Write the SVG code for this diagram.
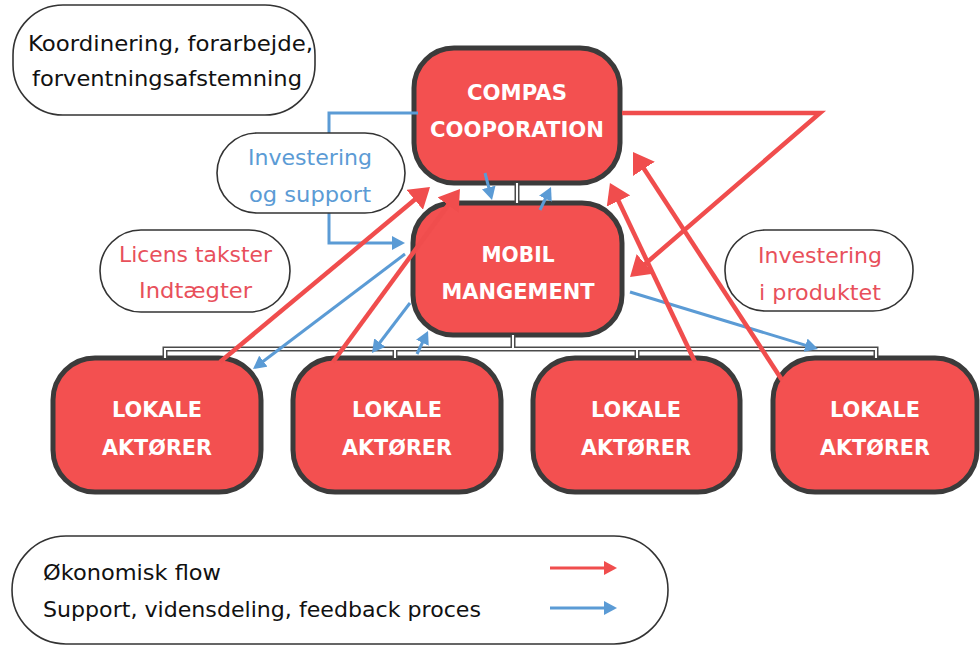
<svg xmlns="http://www.w3.org/2000/svg" width="980" height="647" viewBox="0 0 980 647">
<style>
.node{fill:#f35050;stroke:#3b3b3b;stroke-width:5}
.nt{font-family:"DejaVu Sans","Liberation Sans",sans-serif;font-weight:bold;font-size:21px;fill:#ffffff;text-anchor:middle}
.pill{fill:#ffffff;stroke:#333333;stroke-width:1.6}
.lt{font-family:"DejaVu Sans","Liberation Sans",sans-serif;font-size:21px}
.blk{fill:#111111}
.blu{fill:#5b9bd5}
.rdt{fill:#e8505b}
.barO{fill:none;stroke:#4a4a4a;stroke-width:5}
.barI{fill:none;stroke:#ffffff;stroke-width:2}
.red{fill:none;stroke:#f04d4d;stroke-width:4.5}
.blue{fill:none;stroke:#5b9bd5;stroke-width:3}
</style>
<defs>
<marker id="ahR" markerUnits="userSpaceOnUse" markerWidth="20" markerHeight="26" refX="5" refY="13" orient="auto">
<path d="M0,0 L20,13 L0,26 z" fill="#f04d4d"/>
</marker>
<marker id="ahB" markerUnits="userSpaceOnUse" markerWidth="13" markerHeight="14" refX="3" refY="7" orient="auto">
<path d="M0,0 L13,7 L0,14 z" fill="#5b9bd5"/>
</marker>
<marker id="ahRs" markerUnits="userSpaceOnUse" markerWidth="13" markerHeight="14" refX="3" refY="7" orient="auto">
<path d="M0,0 L13,7 L0,14 z" fill="#f04d4d"/>
</marker>
</defs>
<rect width="980" height="647" fill="#ffffff"/>

<g id="compas">
<rect class="node" x="414" y="48" width="206" height="135" rx="40"/>
<text class="nt" x="517" y="100" textLength="100" lengthAdjust="spacingAndGlyphs">COMPAS</text>
<text class="nt" x="517" y="137" textLength="174" lengthAdjust="spacingAndGlyphs">COOPORATION</text>
</g>
<g id="mobil">
<rect class="node" x="413" y="203" width="209" height="132" rx="40"/>
<text class="nt" x="518" y="262" textLength="73" lengthAdjust="spacingAndGlyphs">MOBIL</text>
<text class="nt" x="518" y="299" textLength="153" lengthAdjust="spacingAndGlyphs">MANGEMENT</text>
</g>
<g id="lokale1">
<rect class="node" x="53" y="358" width="208" height="134" rx="42"/>
<text class="nt" x="157" y="417" textLength="90" lengthAdjust="spacingAndGlyphs">LOKALE</text>
<text class="nt" x="157" y="455" textLength="110" lengthAdjust="spacingAndGlyphs">AKTØRER</text>
</g>
<g id="lokale2">
<rect class="node" x="293" y="358" width="208" height="134" rx="42"/>
<text class="nt" x="397" y="417" textLength="90" lengthAdjust="spacingAndGlyphs">LOKALE</text>
<text class="nt" x="397" y="455" textLength="110" lengthAdjust="spacingAndGlyphs">AKTØRER</text>
</g>
<g id="lokale3">
<rect class="node" x="533" y="358" width="207" height="134" rx="42"/>
<text class="nt" x="636" y="417" textLength="90" lengthAdjust="spacingAndGlyphs">LOKALE</text>
<text class="nt" x="636" y="455" textLength="110" lengthAdjust="spacingAndGlyphs">AKTØRER</text>
</g>
<g id="lokale4">
<rect class="node" x="773" y="358" width="204" height="134" rx="42"/>
<text class="nt" x="875" y="417" textLength="90" lengthAdjust="spacingAndGlyphs">LOKALE</text>
<text class="nt" x="875" y="455" textLength="110" lengthAdjust="spacingAndGlyphs">AKTØRER</text>
</g>

<g id="connectors">
<path class="barO" d="M517,183 V203 M513,335 V349 M165,358 V349 H876 V358 M395,349 V358 M637,349 V358"/>
<path class="barI" d="M517,183 V203 M513,335 V349 M165,358 V349 H876 V358 M395,349 V358 M637,349 V358"/>
<path class="blue" d="M418,113 H329 V243 H395" marker-end="url(#ahB)"/>
<path class="blue" d="M485,173 L489.5,190.3" marker-end="url(#ahB)"/>
<path class="blue" d="M540,210 L546.7,196" marker-end="url(#ahB)"/>
<path class="blue" d="M405,254 L261,363" marker-end="url(#ahB)"/>
<path class="blue" d="M410,303 L378,345" marker-end="url(#ahB)"/>
<path class="blue" d="M417,354 L423.7,340" marker-end="url(#ahB)"/>
<path class="blue" d="M630,292 L808.4,346.1" marker-end="url(#ahB)"/>
<path class="red" d="M622,113 H820 L641.4,267.2" marker-end="url(#ahR)"/>
<path class="red" d="M220,362 L418.5,196.6" marker-end="url(#ahR)"/>
<path class="red" d="M333,362 L451.1,201.1" marker-end="url(#ahR)"/>
<path class="red" d="M695,362 L616.4,196.5" marker-end="url(#ahR)"/>
<path class="red" d="M782,380 L641.2,164.6" marker-end="url(#ahR)"/>
</g>

<g id="label-koordinering">
<rect class="pill" x="13" y="5" width="302" height="110" rx="50"/>
<text class="lt blk" x="28" y="51" textLength="285" lengthAdjust="spacingAndGlyphs">Koordinering, forarbejde,</text>
<text class="lt blk" x="32" y="86" textLength="270" lengthAdjust="spacingAndGlyphs">forventningsafstemning</text>
</g>
<g id="label-investering-support">
<rect class="pill" x="217" y="133" width="188" height="80" rx="40"/>
<text class="lt blu" x="248" y="165" textLength="124" lengthAdjust="spacingAndGlyphs">Investering</text>
<text class="lt blu" x="249" y="202" textLength="122" lengthAdjust="spacingAndGlyphs">og support</text>
</g>
<g id="label-licens">
<rect class="pill" x="100" y="230" width="190" height="82" rx="41"/>
<text class="lt rdt" x="119" y="262" textLength="153" lengthAdjust="spacingAndGlyphs">Licens takster</text>
<text class="lt rdt" x="139" y="298" textLength="113" lengthAdjust="spacingAndGlyphs">Indtægter</text>
</g>
<g id="label-investering-produkt">
<rect class="pill" x="725" y="230" width="188" height="81" rx="40"/>
<text class="lt rdt" x="758" y="263" textLength="124" lengthAdjust="spacingAndGlyphs">Investering</text>
<text class="lt rdt" x="759" y="300" textLength="122" lengthAdjust="spacingAndGlyphs">i produktet</text>
</g>

<g id="legend">
<rect class="pill" x="12" y="536" width="656" height="108" rx="54"/>
<text class="lt blk" x="43" y="580" textLength="178" lengthAdjust="spacingAndGlyphs">Økonomisk flow</text>
<text class="lt blk" x="43" y="617" textLength="438" lengthAdjust="spacingAndGlyphs">Support, vidensdeling, feedback proces</text>
<path class="red" style="stroke-width:3" d="M550,568 H607" marker-end="url(#ahRs)"/>
<path class="blue" d="M550,608 H607" marker-end="url(#ahB)"/>
</g>
</svg>
